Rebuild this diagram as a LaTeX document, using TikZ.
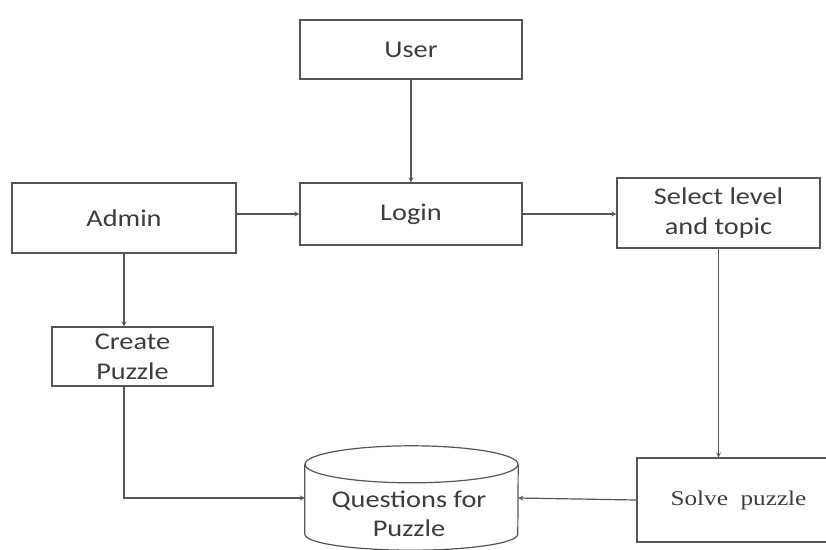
\documentclass[tikz,border=0pt]{standalone}
\usepackage{fontspec}
\setmainfont[FakeStretch=1.18]{Carlito}
\newfontfamily\solvefont[FakeStretch=1.2]{Liberation Serif}
\usepackage{tikz}
\usetikzlibrary{arrows}
\definecolor{boxline}{HTML}{555555}
\definecolor{boxtext}{HTML}{3C3C3C}

\begin{document}
\begin{tikzpicture}[x=1pt, y=-1pt, >=stealth,
    box/.style={rectangle, draw=boxline, line width=1.2pt, text=boxtext, align=center, font=\fontsize{24}{30}\selectfont, inner sep=0pt},
    db/.style={rectangle, text=boxtext, align=center, font=\fontsize{24}{29}\selectfont, inner sep=0pt},
    dbline/.style={draw=boxline, line width=1.2pt},
    link/.style={draw=boxline, line width=1.2pt, ->}]
            \useasboundingbox (0,0) rectangle (826,549);
            \node[box, minimum width=222pt, minimum height=59pt] (user) at (411,49.5) {User};
            \node[box, minimum width=222pt, minimum height=62pt] (login) at (411,214) {Login};
            \node[box, minimum width=224pt, minimum height=70pt] (admin) at (124,218) {Admin};
            \node[box, minimum width=203pt, minimum height=70pt] (select) at (718.5,213) {Select level\\and topic};
            \node[box, minimum width=161pt, minimum height=59pt] (create) at (132.5,356.5) {Create\\Puzzle};
            \node[rectangle, minimum width=213pt, minimum height=104pt] (quest) at (411.5,498) {};
            \node[db] (questlabel) at (409,514) {Questions for\\Puzzle};
            \draw[dbline] ([yshift=-18.5pt]quest.north) ellipse [x radius=106.5pt, y radius=18.5pt];
            \draw[dbline] ([yshift=-18.5pt]quest.north west) -- ([yshift=16pt]quest.south west)
                arc [start angle=180, end angle=360, x radius=106.5pt, y radius=16pt] -- ([yshift=-18.5pt]quest.north east);
            \node[box, minimum width=203pt, minimum height=84pt, font=\solvefont\fontsize{21}{26}\selectfont] (solve) at (738.5,500) {Solve\ \ puzzle};
            \draw[link] (user) -- (login);
            \draw[link] (admin.east |- login.west) -- (login.west);
            \draw[link] (login.east) -- (login.east -| select.west);
            \draw[link] (admin.south) -- (admin.south |- create.north);
            \draw[link] (select.south) -- (select.south |- solve.north);
            \draw[link] (admin.south |- create.south) |- (quest.west);
            \draw[link] (solve.west) -- (quest.east);
        \end{tikzpicture}
\end{document}
